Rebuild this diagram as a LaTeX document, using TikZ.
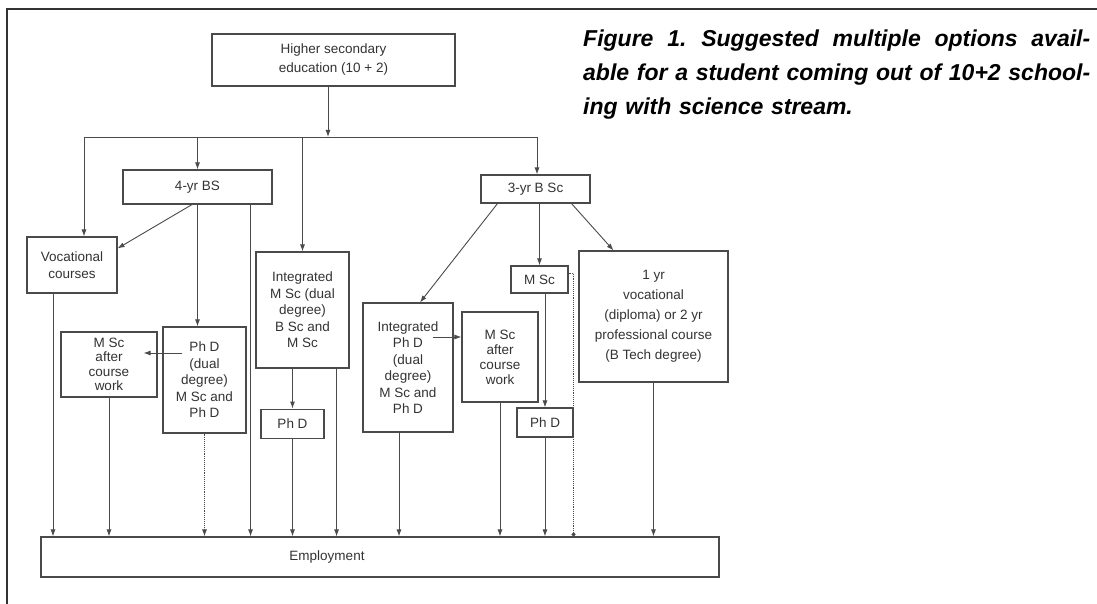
\documentclass[tikz,border=0pt]{standalone}
\usepackage{fontspec}
\setmainfont{Liberation Sans}
\usepackage{tikz}
\usetikzlibrary{positioning,arrows.meta}
\definecolor{inkgray}{HTML}{4a4a4a}
\tikzset{
	->, % every connector is directed
	>={Latex[length=7pt,width=5pt]}, % small solid heads as in the scan
	txt/.style={font=\fontsize{13.5}{16.5}\selectfont, text=black!80}, % text inside the boxes
	box/.style={draw=inkgray, line width=1.1pt, align=center, inner sep=2pt, txt}, % every box
	size/.style 2 args={minimum width=#1pt, minimum height=#2pt}, % box size in pixels
	line/.style={draw=inkgray, line width=0.9pt}, % plain connector
	dotline/.style={line, densely dotted}, % dotted connector
}
\newcommand{\capline}[1]{\leavevmode\hbox to 507pt{\spaceskip=0.25em plus 1fil\xspaceskip=0.3em plus 1fil\relax #1}}

\begin{document}
\begin{tikzpicture}[x=1pt,y=-1pt]
	\useasboundingbox[fill=white] (0,0) rectangle (1097,604);
	\draw[-, draw=black!80, line width=1.5pt] (7,604) -- (7,9) -- (1097,9);

	% caption
	\node[anchor=north west, inner sep=0pt, text width=507pt, align=left,
		font=\fontsize{23}{34}\selectfont\bfseries\itshape] (cap) at (583,30)
		{\capline{Figure 1. Suggested multiple options avail-}\\
		 \capline{able for a student coming out of 10+2 school-}\\
		 ing with science stream.};

	% boxes
	\node[box,size={243}{52},font=\fontsize{13.5}{19}\selectfont] (hs) at (333.5,60) {Higher secondary\\education (10 + 2)};
	\node[box,size={149}{34}] (bs) at (197.5,187) {4-yr BS};
	\node[box,size={109}{28}] (bsc) at (535.5,189) {3-yr B Sc};
	\node[box,size={90}{56}] (voc) at (72,265) {Vocational\\courses};
	\node[box,size={93}{116}] (imsc) at (302.5,310) {Integrated\\M Sc (dual\\degree)\\B Sc and\\M Sc};
	\node[box,size={63}{29},below=40pt of imsc,xshift=-10pt] (phd1) {Ph D};
	\node[box,size={96}{65},font=\fontsize{13.5}{14.5}\selectfont] (msca) at (109,364.5) {M Sc\\after\\course\\work};
	\node[box,size={83}{106}] (phdd) at (204.5,380) {Ph D\\(dual\\degree)\\M Sc and\\Ph D};
	\node[box,size={90}{129}] (iphd) at (408,367.5) {Integrated\\Ph D\\(dual\\degree)\\M Sc and\\Ph D};
	\node[box,size={76}{90},font=\fontsize{13.5}{15}\selectfont] (mscb) at (500,357) {M Sc\\after\\course\\work};
	\node[box,size={57}{27}] (msc) at (539.5,279.5) {M Sc};
	\node[box,size={56}{29}] (phd2) at (545,422.5) {Ph D};
	\node[box,size={149}{131},font=\fontsize{13.5}{20}\selectfont] (yr) at (653.5,316.5) {1 yr\\vocational\\(diploma) or 2 yr\\professional course\\(B Tech degree)};
	\node[box,size={678}{40},label={[txt,xshift=-53pt]center:Employment}] (emp) at (380,557) {};

	% from 10+2
	\coordinate (busl) at (84,137);
	\coordinate (busr) at (537,137);
	\coordinate (hsout) at ([xshift=-5.5pt]hs.south);
	\draw[line] (hsout) -- (hsout |- busl);
	\draw[-,line] (busl) -- (busr);
	\draw[line] (busl) -- (busl |- voc.north);
	\draw[line] (bs.north |- busl) -- (bs.north);
	\draw[line] (imsc.north |- busl) -- (imsc.north);
	\draw[line] (busr) -- (busr |- bsc.north);

	% from 4-yr BS
	\coordinate (bsout) at ([xshift=-22pt]bs.south east);
	\draw[line] ([xshift=-5.5pt]bs.south) -- (voc.20);
	\draw[line] (bs.south) -- (bs.south |- phdd.north);
	\draw[line] (bsout) -- (bsout |- emp.north);

	% left column
	\coordinate (vocout) at ([xshift=-19pt]voc.south);
	\coordinate (phddin) at ([xshift=20pt,yshift=27pt]phdd.west);
	\coordinate (mscain) at ([xshift=-14pt,yshift=11.5pt]msca.east);
	\draw[line] (vocout) -- (vocout |- emp.north);
	\draw[line] (phddin) -- (mscain);
	\draw[line] (msca.south) -- (msca.south |- emp.north);
	\draw[dotline] (phdd.south) -- (phdd.south |- emp.north);

	% integrated M Sc
	\coordinate (imout) at ([xshift=-13pt]imsc.south east);
	\draw[line] (phd1.north |- imsc.south) -- (phd1.north);
	\draw[line] (phd1.south) -- (phd1.south |- emp.north);
	\draw[line] (imout) -- (imout |- emp.north);

	% from 3-yr B Sc
	\draw[line] ([xshift=-38pt]bsc.south) -- ([xshift=12pt]iphd.north);
	\draw[line] (msc.north |- bsc.south) -- (msc.north);
	\draw[line] ([xshift=36pt]bsc.south) -- ([xshift=-40pt]yr.north);

	% right part
	\coordinate (iphdout) at ([xshift=-21pt,yshift=30.5pt]iphd.east);
	\coordinate (iphddown) at ([xshift=-9pt]iphd.south);
	\draw[line] (iphdout) -- (iphdout -| mscb.west);
	\draw[line] (iphddown) -- (iphddown |- emp.north);
	\draw[line] (mscb.south) -- (mscb.south |- emp.north);
	\draw[line] (phd2.north |- msc.south) -- (phd2.north);
	\draw[line] (phd2.south) -- (phd2.south |- emp.north);
	\draw[dotline,-{Circle[length=4pt]}] ([yshift=6.5pt]msc.east) -| (phd2.east |- emp.north);
	\draw[line] (yr.south) -- (yr.south |- emp.north);
\end{tikzpicture}
\end{document}
